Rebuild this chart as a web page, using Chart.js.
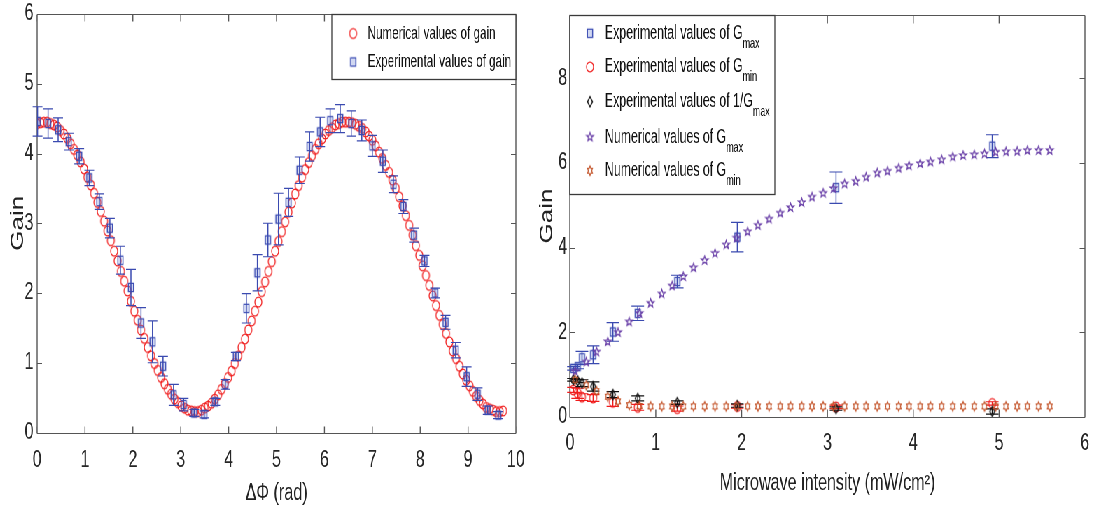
<!DOCTYPE html>
<html><head><meta charset="utf-8">
<script src="https://cdn.jsdelivr.net/npm/chart.js@4.4.1/dist/chart.umd.min.js"></script>
<style>
html,body{margin:0;padding:0;background:#fff;overflow:hidden;width:1094px;height:508px}
#wrap{position:absolute;left:0;top:0;width:1563px;height:508px;transform:scaleX(0.7);transform-origin:0 0}
#c1{position:absolute;left:0;top:0}
#c2{position:absolute;left:751px;top:0}
</style></head><body>
<div id="wrap"><canvas id="c1" width="771" height="508"></canvas><canvas id="c2" width="812" height="508"></canvas></div>
<script>
// ---------- LEFT PANEL DATA ----------
const phaseNum = [0.00,0.07,0.14,0.21,0.28,0.35,0.42,0.49,0.56,0.63,0.70,0.77,0.84,0.91,0.98,1.05,1.12,1.19,1.26,1.33,
1.40,1.47,1.54,1.61,1.68,1.75,1.82,1.89,1.96,2.03,2.10,2.17,2.24,2.31,2.38,2.45,2.52,2.59,2.66,2.73,
2.80,2.87,2.94,3.01,3.08,3.15,3.22,3.29,3.36,3.43,3.50,3.57,3.64,3.71,3.78,3.85,3.92,3.99,4.06,4.13,
4.20,4.27,4.34,4.41,4.48,4.55,4.62,4.69,4.76,4.83,4.90,4.97,5.04,5.11,5.18,5.25,5.32,5.39,5.46,5.53,
5.60,5.67,5.74,5.81,5.88,5.95,6.02,6.09,6.16,6.23,6.30,6.37,6.44,6.51,6.58,6.65,6.72,6.79,6.86,6.93,
7.00,7.07,7.14,7.21,7.28,7.35,7.42,7.49,7.56,7.63,7.70,7.77,7.84,7.91,7.98,8.05,8.12,8.19,8.26,8.33,
8.40,8.47,8.54,8.61,8.68,8.75,8.82,8.89,8.96,9.03,9.10,9.17,9.24,9.31,9.38,9.45,9.52,9.59,9.66,9.73];
const gainNum = [4.43,4.44,4.45,4.45,4.43,4.41,4.38,4.33,4.28,4.22,4.14,4.06,3.98,3.88,3.78,3.66,3.55,3.43,3.30,3.17,
3.03,2.89,2.75,2.60,2.46,2.31,2.17,2.03,1.88,1.74,1.61,1.47,1.35,1.22,1.10,0.99,0.89,0.79,0.70,0.62,
0.55,0.48,0.43,0.38,0.35,0.32,0.31,0.30,0.30,0.32,0.35,0.38,0.42,0.48,0.54,0.62,0.70,0.79,0.88,0.99,
1.10,1.22,1.34,1.47,1.60,1.74,1.87,2.02,2.16,2.31,2.45,2.60,2.74,2.88,3.02,3.16,3.29,3.42,3.54,3.66,
3.77,3.87,3.97,4.06,4.14,4.21,4.28,4.33,4.37,4.41,4.43,4.45,4.45,4.45,4.44,4.42,4.39,4.36,4.31,4.25,
4.19,4.11,4.02,3.93,3.83,3.73,3.62,3.50,3.38,3.25,3.11,2.97,2.83,2.68,2.54,2.39,2.25,2.11,1.96,1.82,
1.68,1.55,1.42,1.30,1.17,1.06,0.95,0.84,0.75,0.67,0.59,0.52,0.46,0.41,0.36,0.34,0.32,0.30,0.30,0.31];
const phaseExp = [0.01,0.23,0.44,0.66,0.88,1.09,1.30,1.52,1.74,1.96,2.17,2.41,2.63,2.85,3.06,3.28,3.49,3.72,3.93,4.15,4.37,4.60,4.82,5.04,5.25,5.48,5.69,5.91,6.12,6.33,6.56,6.78,7.00,7.22,7.44,7.65,7.87,8.09,8.31,8.53,8.74,8.97,9.20,9.41,9.63];
const gainExp = [4.46,4.43,4.34,4.17,3.96,3.65,3.31,2.93,2.47,2.08,1.57,1.30,0.95,0.54,0.40,0.28,0.26,0.44,0.69,1.09,1.78,2.29,2.76,3.06,3.30,3.76,4.10,4.31,4.47,4.50,4.43,4.33,4.11,3.89,3.56,3.24,2.83,2.46,2.00,1.58,1.18,0.80,0.55,0.32,0.25];
const gainExpErr = [0.21,0.21,0.17,0.12,0.11,0.11,0.11,0.14,0.20,0.26,0.22,0.30,0.14,0.15,0.09,0.05,0.05,0.05,0.07,0.06,0.21,0.26,0.24,0.37,0.20,0.19,0.21,0.21,0.17,0.20,0.18,0.15,0.15,0.16,0.12,0.10,0.10,0.08,0.07,0.10,0.11,0.14,0.09,0.06,0.05];
const leftXTicks = [0,1,2,3,4,5,6,7,8,9,10];
const leftYTicks = [0,1,2,3,4,5,6];

// ---------- RIGHT PANEL DATA ----------
const intensityNum = [0.06,0.19,0.31,0.44,0.56,0.69,0.81,0.94,1.07,1.19,1.32,1.44,1.57,1.69,1.82,1.94,2.07,2.19,2.32,2.45,2.57,2.70,2.82,2.95,3.07,3.20,3.33,3.45,3.58,3.70,3.83,3.95,4.08,4.20,4.33,4.46,4.58,4.71,4.83,4.96,5.08,5.21,5.33,5.46,5.59];
const gmaxNum = [1.08,1.30,1.54,1.78,2.00,2.25,2.45,2.69,2.91,3.10,3.32,3.53,3.70,3.87,4.07,4.23,4.38,4.53,4.68,4.82,4.95,5.07,5.20,5.29,5.40,5.51,5.57,5.67,5.77,5.81,5.88,5.94,5.99,6.03,6.08,6.15,6.18,6.20,6.22,6.26,6.27,6.28,6.30,6.30,6.30];
const gminNum = [0.88,0.75,0.61,0.48,0.37,0.28,0.26,0.25,0.25,0.25,0.25,0.25,0.25,0.25,0.25,0.25,0.25,0.25,0.25,0.25,0.25,0.25,0.25,0.25,0.25,0.25,0.25,0.25,0.25,0.25,0.25,0.25,0.25,0.25,0.25,0.25,0.25,0.25,0.25,0.25,0.25,0.25,0.25,0.25,0.25];
const intensityExp = [0.04,0.09,0.14,0.27,0.50,0.79,1.25,1.95,3.10,4.92];
const gmaxExp = [1.15,1.19,1.40,1.47,2.01,2.45,3.20,4.25,5.42,6.40];
const gmaxErr = [0.04,0.05,0.15,0.21,0.22,0.17,0.15,0.35,0.37,0.27];
const gminExp = [0.64,0.56,0.47,0.45,0.35,0.23,0.20,0.25,0.24,0.32];
const gminErr = [0.06,0.12,0.08,0.08,0.10,0.07,0.06,0.04,0.04,0.04];
const invGmaxExp = [0.88,0.85,0.80,0.72,0.53,0.44,0.34,0.27,0.20,0.13];
const invGmaxErr = [0.03,0.04,0.08,0.11,0.07,0.06,0.04,0.04,0.04,0.06];
const rightXTicks = [0,1,2,3,4,5,6];
const rightYTicks = [0,2,4,6,8];

// ---------- helpers ----------
const FONT = "'Liberation Sans', Arial, Helvetica, sans-serif";
const pts = (xs, ys) => xs.map((x, i) => ({x: x, y: ys[i]}));

function marker(kind, rx, ry, stroke, fill, lw) {
  const pad = Math.ceil(lw) + 1;
  const w = Math.ceil(2 * rx) + 2 * pad, h = Math.ceil(2 * ry) + 2 * pad;
  const c = document.createElement('canvas'); c.width = w; c.height = h;
  const g = c.getContext('2d'); const cx = w / 2, cy = h / 2;
  g.beginPath();
  if (kind === 'circle') g.ellipse(cx, cy, rx, ry, 0, 0, Math.PI * 2);
  else if (kind === 'square') g.rect(cx - rx, cy - ry, 2 * rx, 2 * ry);
  else if (kind === 'diamond') { g.moveTo(cx, cy - ry); g.lineTo(cx + rx, cy); g.lineTo(cx, cy + ry); g.lineTo(cx - rx, cy); g.closePath(); }
  else {
    const n = kind === 'pentagram' ? 5 : 6, inner = kind === 'pentagram' ? 0.42 : 0.6;
    for (let k = 0; k < 2 * n; k++) {
      const a = -Math.PI / 2 + k * Math.PI / n, r = (k % 2) ? inner : 1;
      const px = cx + rx * r * Math.cos(a), py = cy + ry * r * Math.sin(a);
      if (k) g.lineTo(px, py); else g.moveTo(px, py);
    }
    g.closePath();
  }
  if (fill) { g.fillStyle = fill; g.fill(); }
  g.strokeStyle = stroke; g.lineWidth = lw; g.stroke();
  return c;
}
const redCircle = marker('circle', 5.0, 4.9, '#f01c1c', null, 1.3);
const blueSquare = marker('square', 3.7, 4.1, '#3b4cb3', 'rgba(120,140,215,0.35)', 1.4);
const blackDiamond = marker('diamond', 3.6, 5, '#111111', null, 1.4);
const purpleStar = marker('pentagram', 5.2, 4.4, '#6a40a8', null, 1.3);
const orangeHex = marker('hexagram', 4.0, 4.6, '#c4562c', null, 1.3);

const framePlugin = {
  id: 'frame',
  beforeDatasetsDraw(chart, args, o) {
    const {ctx, chartArea: a} = chart; const xs = chart.scales.x, ys = chart.scales.y;
    const L = Math.round(a.left), R = Math.round(a.right), T = Math.round(a.top) + 0.5, B = Math.round(a.bottom) + 0.5;
    ctx.save(); ctx.strokeStyle = '#555555';
    ctx.lineWidth = 1; ctx.beginPath();
    ctx.moveTo(L, T); ctx.lineTo(R, T); ctx.moveTo(L, B); ctx.lineTo(R, B);
    ys.ticks.forEach(t => { const py = Math.round(ys.getPixelForValue(t.value)) + 0.5;
      ctx.moveTo(L, py); ctx.lineTo(L + o.tickH, py); ctx.moveTo(R, py); ctx.lineTo(R - o.tickH, py); });
    ctx.stroke();
    ctx.lineWidth = 1.4; ctx.beginPath();
    ctx.moveTo(L, T); ctx.lineTo(L, B); ctx.moveTo(R, T); ctx.lineTo(R, B);
    xs.ticks.forEach(t => { const px = xs.getPixelForValue(t.value);
      ctx.moveTo(px, B); ctx.lineTo(px, B - o.tickV); ctx.moveTo(px, T); ctx.lineTo(px, T + o.tickV); });
    ctx.stroke(); ctx.restore();
  }
};
const errorPlugin = {
  id: 'errorBars',
  afterDatasetDraw(chart, args, o) {
    const ds = chart.data.datasets[args.index];
    if (!ds.errors) return;
    const ctx = chart.ctx, ys = chart.scales.y;
    ctx.save(); ctx.strokeStyle = ds.errorColor;
    args.meta.data.forEach((el, i) => {
      const v = ds.data[i].y, e = ds.errors[i];
      const top = ys.getPixelForValue(v + e), bot = ys.getPixelForValue(v - e);
      ctx.lineWidth = 1.5; ctx.beginPath(); ctx.moveTo(el.x, top); ctx.lineTo(el.x, bot); ctx.stroke();
      ctx.lineWidth = 1.2; ctx.beginPath();
      ctx.moveTo(el.x - o.cap, top); ctx.lineTo(el.x + o.cap, top);
      ctx.moveTo(el.x - o.cap, bot); ctx.lineTo(el.x + o.cap, bot); ctx.stroke();
    });
    ctx.restore();
  }
};
const legendPlugin = {
  id: 'subLegend',
  afterDraw(chart, args, o) {
    const ctx = chart.ctx, a = chart.chartArea;
    const x0 = o.left, x1 = a.right - o.rightInset, y0 = a.top, y1 = o.bottom;
    ctx.save();
    ctx.fillStyle = '#ffffff'; ctx.fillRect(x0, y0, x1 - x0, y1 - y0);
    ctx.strokeStyle = '#3a3a3a'; ctx.lineWidth = 1.3; ctx.strokeRect(Math.round(x0), Math.round(y0) + 0.5, Math.round(x1 - x0), Math.round(y1 - y0));
    o.items.forEach((it, k) => {
      const yy = o.rows[k];
      const m = chart.data.datasets[it.ds].pointStyle;
      ctx.drawImage(m, o.markerX - m.width / 2, yy - m.height / 2);
      ctx.save();
      ctx.translate(o.textX, yy); ctx.scale(o.squeeze, 1);
      ctx.fillStyle = '#111'; ctx.textBaseline = 'middle'; ctx.textAlign = 'left';
      ctx.font = o.size + 'px ' + FONT;
      ctx.fillText(it.text, 0, 0);
      if (it.sub) {
        const w = ctx.measureText(it.text).width;
        ctx.font = o.subSize + 'px ' + FONT;
        ctx.fillText(it.sub, w, o.subDy);
      }
      ctx.restore();
    });
    ctx.restore();
  }
};

function axis(min, max, tickVals, tickPad, fontSize, title, titleSize, titlePad, fitSize, horizontal) {
  return {
    type: 'linear', min: min, max: max,
    grid: {display: false, drawTicks: false}, border: {display: false},
    afterBuildTicks(s) { s.ticks = tickVals.map(v => ({value: v})); },
    ticks: {padding: tickPad, color: '#262626', font: {family: FONT, size: fontSize}, maxRotation: 0, autoSkip: false, includeBounds: false},
    title: {display: true, text: title, color: '#222222', font: {family: FONT, size: titleSize}, padding: titlePad},
    afterFit(s) {
      if (horizontal) { s.height = fitSize; s.paddingLeft = 0; s.paddingRight = 0; }
      else { s.width = fitSize; s.paddingTop = 0; s.paddingBottom = 0; }
    }
  };
}

// ---------- LEFT CHART ----------
new Chart(document.getElementById('c1'), {
  type: 'scatter',
  data: {datasets: [
    {label: 'Numerical values of gain', data: pts(phaseNum, gainNum), pointStyle: redCircle, order: 2},
    {label: 'Experimental values of gain', data: pts(phaseExp, gainExp), pointStyle: blueSquare, errors: gainExpErr, errorColor: '#3a4ab0', order: 1}
  ]},
  options: {
    responsive: false, animation: false, events: [],
    layout: {padding: {left: 0, right: 33.9, top: 14, bottom: 0}},
    plugins: {
      legend: {display: false}, tooltip: {enabled: false},
      frame: {tickH: 7, tickV: 7},
      errorBars: {cap: 7},
      subLegend: {left: 474, rightInset: 0, bottom: 79, markerX: 504.5, textX: 525, size: 19, subSize: 14, subDy: 10, squeeze: 0.88,
        rows: [33.5, 62],
        items: [{ds: 0, text: 'Numerical values of gain'}, {ds: 1, text: 'Experimental values of gain'}]}
    },
    scales: {
      x: axis(0, 10, leftXTicks, 14, 23, 'ΔΦ (rad)', 23, {top: 0, bottom: 0.5}, 75.5, true),
      y: axis(0, 6, leftYTicks, 5, 23, 'Gain', 26, {top: 10.1, bottom: 0}, 52.9, false)
    }
  },
  plugins: [framePlugin, errorPlugin, legendPlugin]
});

// ---------- RIGHT CHART ----------
new Chart(document.getElementById('c2'), {
  type: 'scatter',
  data: {datasets: [
    {label: 'Experimental values of Gmax', data: pts(intensityExp, gmaxExp), pointStyle: blueSquare, errors: gmaxErr, errorColor: '#3a4ab0', order: 5},
    {label: 'Experimental values of Gmin', data: pts(intensityExp, gminExp), pointStyle: redCircle, errors: gminErr, errorColor: '#f01c1c', order: 4},
    {label: 'Experimental values of 1/Gmax', data: pts(intensityExp, invGmaxExp), pointStyle: blackDiamond, errors: invGmaxErr, errorColor: '#111111', order: 3},
    {label: 'Numerical values of Gmax', data: pts(intensityNum, gmaxNum), pointStyle: purpleStar, order: 2},
    {label: 'Numerical values of Gmin', data: pts(intensityNum, gminNum), pointStyle: orangeHex, order: 1}
  ]},
  options: {
    responsive: false, animation: false, events: [],
    layout: {padding: {left: 0, right: 13, top: 15, bottom: 0}},
    plugins: {
      legend: {display: false}, tooltip: {enabled: false},
      frame: {tickH: 7.5, tickV: 8},
      errorBars: {cap: 9},
      subLegend: {left: 63.3, rightInset: 799 - 356.1, bottom: 193.5, markerX: 91.9, textX: 113.3, size: 20, subSize: 14.5, subDy: 10.5, squeeze: 0.88,
        rows: [33.3, 66.9, 101.7, 137, 170.7],
        items: [
          {ds: 0, text: 'Experimental values of G', sub: 'max'},
          {ds: 1, text: 'Experimental values of G', sub: 'min'},
          {ds: 2, text: 'Experimental values of 1/G', sub: 'max'},
          {ds: 3, text: 'Numerical values of G', sub: 'max'},
          {ds: 4, text: 'Numerical values of G', sub: 'min'}
        ]}
    },
    scales: {
      x: axis(0, 6, rightXTicks, 13, 23, 'Microwave intensity (mW/cm²)', 23, {top: 0, bottom: 11}, 91, true),
      y: axis(0, 9.5, rightYTicks, 4, 23, 'Gain', 26, {top: 14.8, bottom: 0}, 63.3, false)
    }
  },
  plugins: [framePlugin, errorPlugin, legendPlugin]
});
</script>
</body></html>
